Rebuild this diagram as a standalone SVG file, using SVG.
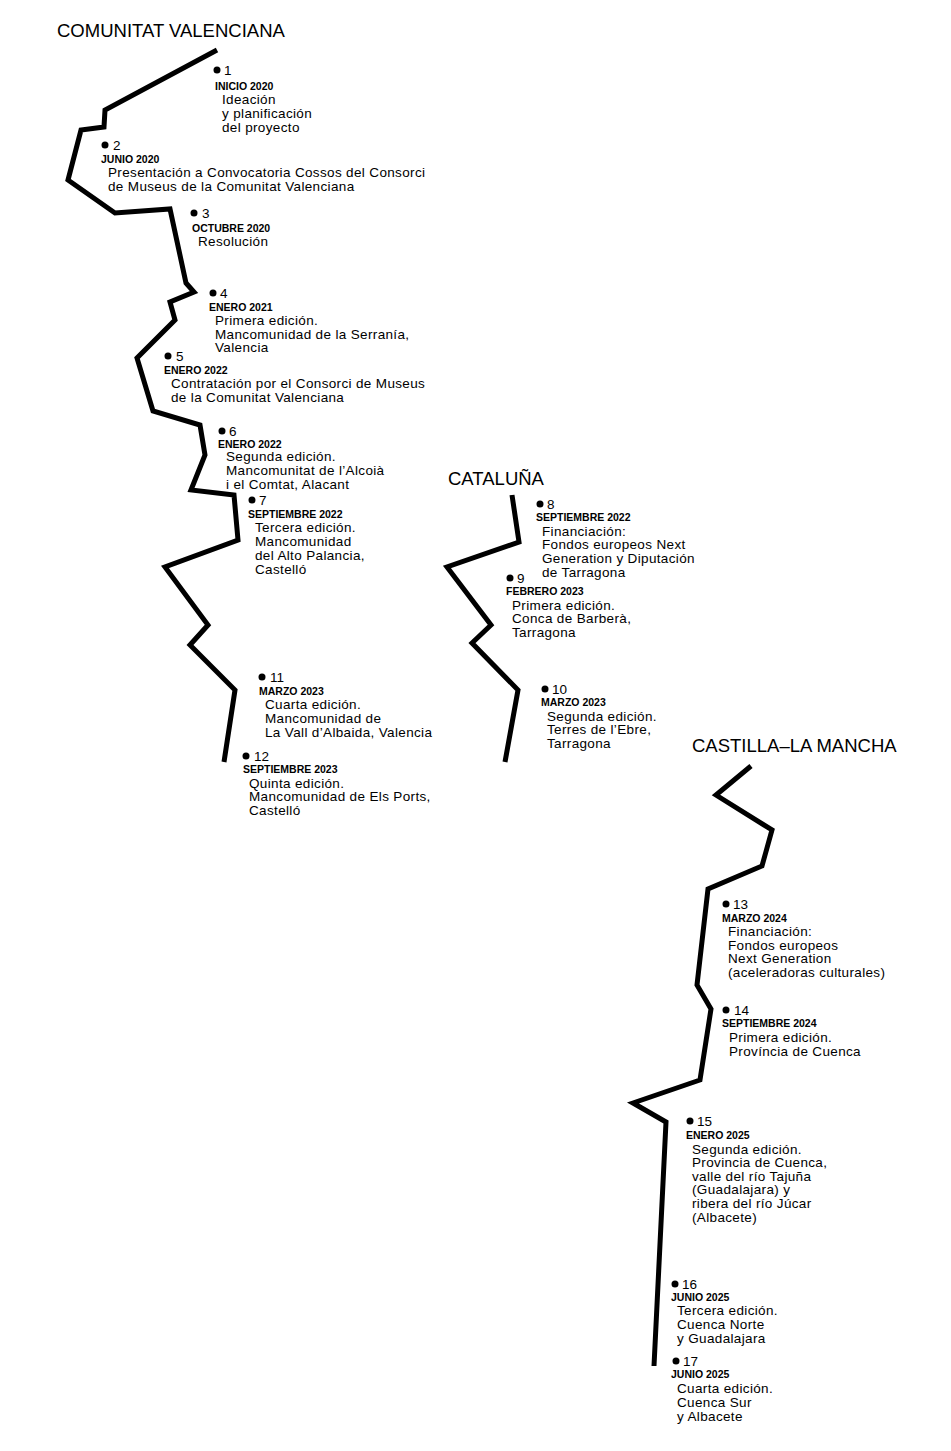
<svg xmlns="http://www.w3.org/2000/svg" width="951" height="1451" viewBox="0 0 951 1451">
<style>
text{font-family:"Liberation Sans",Arial,sans-serif;fill:#000}
.h{font-size:18.5px}
.n{font-size:13.5px}
.d{font-size:10.5px;font-weight:bold}
.b{font-size:13.5px;letter-spacing:0.35px}
.l{fill:none;stroke:#000;stroke-width:5;stroke-linejoin:miter}
</style>
<rect width="951" height="1451" fill="#fff"/>
<g id="connectors">
<polyline class="l" points="217,50 105,110 104,127 81,130 68,180 115,213 170,209 186,283 194,292 170,302 175,320 137,358 153,411 200,425 205,455 191,490 234,495 238,540 165,567 208,625 190,645 235,690 224,762"/>
<polyline class="l" points="512,495 519,542 447,567 491,625 472,643 518,690 505,762"/>
<polyline class="l" points="751,766 716,795 772,830 762,866 708,889 697,985 711,1009 700,1080 633,1103 666,1122 654,1366"/>
</g>
<g id="headers">
<text class="h" x="57" y="37">COMUNITAT VALENCIANA</text>
<text class="h" x="448" y="485">CATALUÑA</text>
<text class="h" x="692" y="752">CASTILLA–LA MANCHA</text>
</g>
<g id="n1"><circle cx="217" cy="70" r="3.5"/><text class="n" x="224" y="75">1</text><text class="d" x="215" y="90">INICIO 2020</text><text class="b" x="222" y="104">Ideación</text><text class="b" x="222" y="118">y planificación</text><text class="b" x="222" y="132">del proyecto</text></g>
<g id="n2"><circle cx="105" cy="145" r="3.5"/><text class="n" x="113" y="150">2</text><text class="d" x="101" y="163">JUNIO 2020</text><text class="b" x="108" y="177">Presentación a Convocatoria Cossos del Consorci</text><text class="b" x="108" y="191">de Museus de la Comunitat Valenciana</text></g>
<g id="n3"><circle cx="194" cy="213" r="3.5"/><text class="n" x="202" y="218">3</text><text class="d" x="192" y="232">OCTUBRE 2020</text><text class="b" x="198" y="246">Resolución</text></g>
<g id="n4"><circle cx="213" cy="293" r="3.5"/><text class="n" x="220" y="298">4</text><text class="d" x="209" y="311">ENERO 2021</text><text class="b" x="215" y="325">Primera edición.</text><text class="b" x="215" y="339">Mancomunidad de la Serranía,</text><text class="b" x="215" y="352">Valencia</text></g>
<g id="n5"><circle cx="168" cy="356" r="3.5"/><text class="n" x="176" y="361">5</text><text class="d" x="164" y="374">ENERO 2022</text><text class="b" x="171" y="388">Contratación por el Consorci de Museus</text><text class="b" x="171" y="402">de la Comunitat Valenciana</text></g>
<g id="n6"><circle cx="222" cy="431" r="3.5"/><text class="n" x="229" y="436">6</text><text class="d" x="218" y="448">ENERO 2022</text><text class="b" x="226" y="461">Segunda edición.</text><text class="b" x="226" y="475">Mancomunitat de l’Alcoià</text><text class="b" x="226" y="489">i el Comtat, Alacant</text></g>
<g id="n7"><circle cx="252" cy="500" r="3.5"/><text class="n" x="259" y="505">7</text><text class="d" x="248" y="518">SEPTIEMBRE 2022</text><text class="b" x="255" y="532">Tercera edición.</text><text class="b" x="255" y="546">Mancomunidad</text><text class="b" x="255" y="560">del Alto Palancia,</text><text class="b" x="255" y="574">Castelló</text></g>
<g id="n8"><circle cx="540" cy="504" r="3.5"/><text class="n" x="547" y="509">8</text><text class="d" x="536" y="521">SEPTIEMBRE 2022</text><text class="b" x="542" y="536">Financiación:</text><text class="b" x="542" y="549">Fondos europeos Next</text><text class="b" x="542" y="563">Generation y Diputación</text><text class="b" x="542" y="577">de Tarragona</text></g>
<g id="n9"><circle cx="510" cy="578" r="3.5"/><text class="n" x="517" y="583">9</text><text class="d" x="506" y="595">FEBRERO 2023</text><text class="b" x="512" y="610">Primera edición.</text><text class="b" x="512" y="623">Conca de Barberà,</text><text class="b" x="512" y="637">Tarragona</text></g>
<g id="n10"><circle cx="545" cy="689" r="3.5"/><text class="n" x="552" y="694">10</text><text class="d" x="541" y="706">MARZO 2023</text><text class="b" x="547" y="721">Segunda edición.</text><text class="b" x="547" y="734">Terres de l’Ebre,</text><text class="b" x="547" y="748">Tarragona</text></g>
<g id="n11"><circle cx="262" cy="677" r="3.5"/><text class="n" x="270" y="682">11</text><text class="d" x="259" y="695">MARZO 2023</text><text class="b" x="265" y="709">Cuarta edición.</text><text class="b" x="265" y="723">Mancomunidad de</text><text class="b" x="265" y="737">La Vall d’Albaida, Valencia</text></g>
<g id="n12"><circle cx="246" cy="756" r="3.5"/><text class="n" x="254" y="761">12</text><text class="d" x="243" y="773">SEPTIEMBRE 2023</text><text class="b" x="249" y="788">Quinta edición.</text><text class="b" x="249" y="801">Mancomunidad de Els Ports,</text><text class="b" x="249" y="815">Castelló</text></g>
<g id="n13"><circle cx="726" cy="904" r="3.5"/><text class="n" x="733" y="909">13</text><text class="d" x="722" y="922">MARZO 2024</text><text class="b" x="728" y="936">Financiación:</text><text class="b" x="728" y="950">Fondos europeos</text><text class="b" x="728" y="963">Next Generation</text><text class="b" x="728" y="977">(aceleradoras culturales)</text></g>
<g id="n14"><circle cx="726" cy="1010" r="3.5"/><text class="n" x="734" y="1015">14</text><text class="d" x="722" y="1027">SEPTIEMBRE 2024</text><text class="b" x="729" y="1042">Primera edición.</text><text class="b" x="729" y="1056">Província de Cuenca</text></g>
<g id="n15"><circle cx="690" cy="1121" r="3.5"/><text class="n" x="697" y="1126">15</text><text class="d" x="686" y="1139">ENERO 2025</text><text class="b" x="692" y="1154">Segunda edición.</text><text class="b" x="692" y="1167">Provincia de Cuenca,</text><text class="b" x="692" y="1181">valle del río Tajuña</text><text class="b" x="692" y="1194">(Guadalajara) y</text><text class="b" x="692" y="1208">ribera del río Júcar</text><text class="b" x="692" y="1222">(Albacete)</text></g>
<g id="n16"><circle cx="675" cy="1284" r="3.5"/><text class="n" x="682" y="1289">16</text><text class="d" x="671" y="1301">JUNIO 2025</text><text class="b" x="677" y="1315">Tercera edición.</text><text class="b" x="677" y="1329">Cuenca Norte</text><text class="b" x="677" y="1343">y Guadalajara</text></g>
<g id="n17"><circle cx="676" cy="1361" r="3.5"/><text class="n" x="683" y="1366">17</text><text class="d" x="671" y="1378">JUNIO 2025</text><text class="b" x="677" y="1393">Cuarta edición.</text><text class="b" x="677" y="1407">Cuenca Sur</text><text class="b" x="677" y="1421">y Albacete</text></g>
</svg>
